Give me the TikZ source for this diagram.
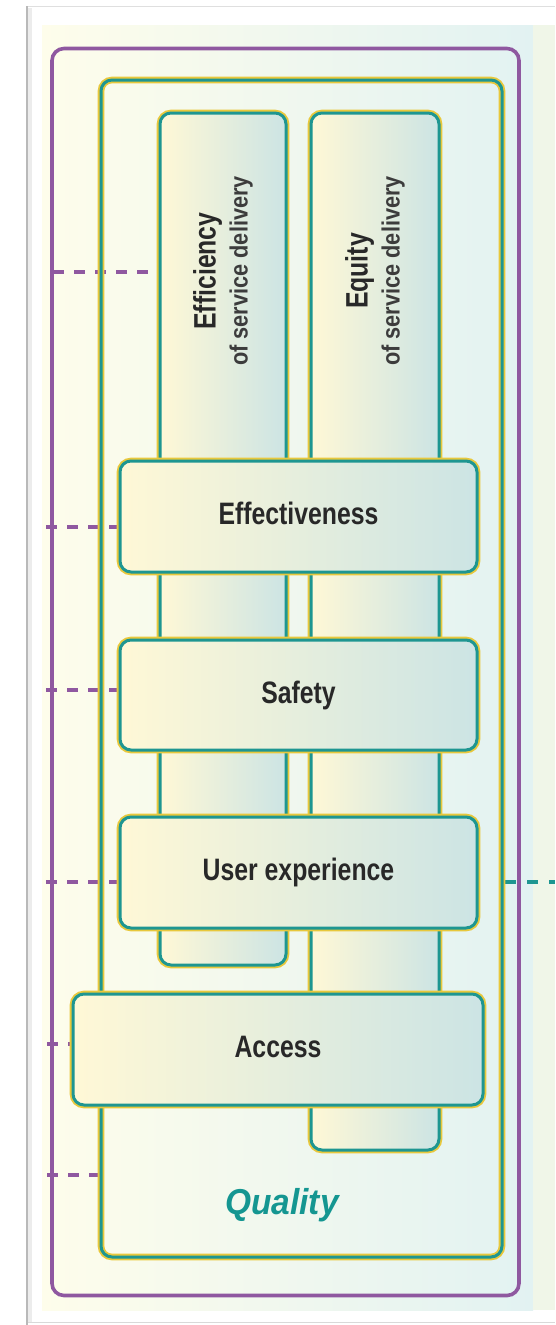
\documentclass[tikz,border=0pt]{standalone}
\usepackage{fontspec}
\setmainfont{Liberation Sans}
\newfontfamily\narrowfont[FakeStretch=0.8]{Liberation Sans}
\newfontfamily\subfont[FakeStretch=0.87]{Liberation Sans}
\newfontfamily\qualfont[FakeStretch=0.93]{Liberation Sans}
\pgfdeclarelayer{bg}
\pgfsetlayers{bg,main}
\definecolor{purplec}{RGB}{143,88,160}
\definecolor{tealc}{RGB}{30,150,145}
\definecolor{yelc}{RGB}{232,200,60}
\definecolor{boxL}{RGB}{255,248,214}
\definecolor{boxR}{RGB}{204,228,228}
\definecolor{bgL}{RGB}{254,253,235}
\definecolor{bgR}{RGB}{226,242,242}
\definecolor{stripc}{RGB}{240,246,232}
\definecolor{qualc}{RGB}{20,150,145}
\definecolor{textc}{RGB}{40,40,40}
\definecolor{subc}{RGB}{60,60,60}
\begin{document}
\begin{tikzpicture}[x=1pt,y=-1pt,
  tealbox/.style={rectangle, inner sep=0pt, outer sep=0pt, rounded corners=11pt,
    draw=tealc, line width=3pt, preaction={draw=yelc, line width=6.6pt}},
  shadedbox/.style={tealbox, left color=boxL, right color=boxR},
  lbl/.style={text=textc, font=\narrowfont\bfseries\fontsize{31}{31}\selectfont,
    text height=22pt, text depth=6pt},
  collbl/.style={rotate=90, align=center, text=subc, font=\subfont\bfseries\fontsize{25}{32}\selectfont},
  pdash/.style={draw=purplec, line width=4pt, dash pattern=on 11pt off 10pt},
  tdash/.style={draw=tealc, line width=3.5pt, dash pattern=on 11pt off 11pt},
]
\useasboundingbox (0,0) rectangle (555,1325);

% outer frame
\node[draw=purplec, line width=3.6pt, rounded corners=12pt, minimum width=467pt,
  minimum height=1247pt, inner sep=0pt, outer sep=0pt] (outer) at (285.5,672) {};
% quality frame
\node[tealbox, minimum width=401pt, minimum height=1177pt] (quality) at (301.5,668.5) {};
\node[text=qualc, font=\qualfont\bfseries\itshape\fontsize{36}{36}\selectfont] (qlbl) at (282,1205) {Quality};

% columns
\node[shadedbox, minimum width=126pt, minimum height=852pt] (effc) at (223,539) {};
\node[shadedbox, minimum width=128pt, minimum height=1037pt] (equc) at (375,631.5) {};
\node[collbl] (efflbl) at (223,271) {{\narrowfont\bfseries\fontsize{31}{31}\selectfont\color{textc}Efficiency}\\of service delivery};
\node[collbl] (equlbl) at (375,271) {{\narrowfont\bfseries\fontsize{31}{31}\selectfont\color{textc}Equity}\\of service delivery};

% bands
\node[shadedbox, lbl, minimum width=357pt, minimum height=111pt] (effb) at (298.5,516.5) {Effectiveness};
\node[shadedbox, lbl, minimum width=357pt, minimum height=110pt] (safb) at (298.5,695) {Safety};
\node[shadedbox, lbl, minimum width=357pt, minimum height=111pt] (uxb) at (298.5,872.5) {User experience};
\node[shadedbox, lbl, minimum width=410pt, minimum height=111pt] (accb) at (278,1049.5) {Access};

\begin{pgfonlayer}{bg}
  % page
  \draw[gray!25, line width=1pt] (27,6) -- (555,6);
  \draw[gray!30, line width=1pt] (27,1322) -- (555,1322);
  \draw[gray!15, line width=4pt] (30,8) -- (30,1322);
  \draw[gray!55, line width=1.2pt] (27,6) -- (27,1325);
  \shade[left color=bgL, right color=bgR] (42,25) rectangle (533,1310);
  \fill[stripc] (533,25) rectangle (555,1310);
  % dashed connectors
  \coordinate (d1) at (53,272);
  \coordinate (d2) at (46,527);
  \coordinate (d3) at (46,690);
  \coordinate (d4) at (46,882);
  \coordinate (d5) at (47,1044);
  \coordinate (d6) at (47,1175);
  \coordinate (r1) at (555,882);
  \draw[pdash] (d1) -- (d1 -| effc.west);
  \draw[pdash] (d2) -- (d2 -| effb.west);
  \draw[pdash] (d3) -- (d3 -| safb.west);
  \draw[pdash] (d4) -- (d4 -| uxb.west);
  \draw[pdash] (d5) -- (d5 -| accb.west);
  \draw[pdash] (d6) -- (d6 -| quality.west);
  \draw[tdash] ([xshift=3pt]quality.east |- r1) -- (r1);
\end{pgfonlayer}
\end{tikzpicture}
\end{document}
